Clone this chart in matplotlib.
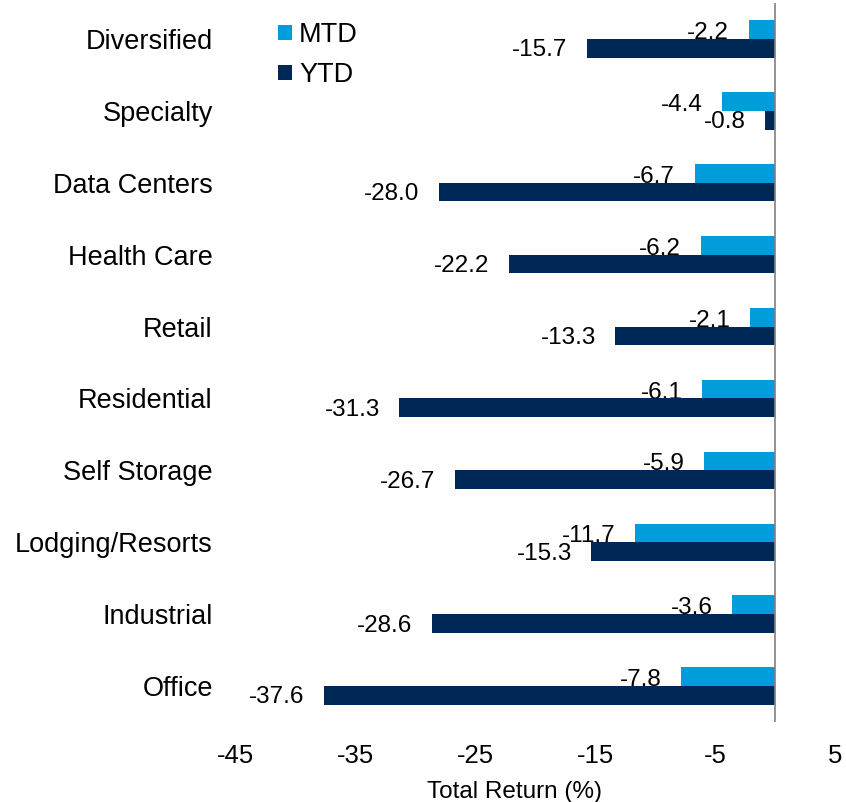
import numpy as np
import matplotlib
matplotlib.use('Agg')
import matplotlib.pyplot as plt

plt.rcParams['font.family'] = ['Liberation Sans', 'DejaVu Sans']

categories = ['Diversified', 'Specialty', 'Data Centers', 'Health Care', 'Retail',
              'Residential', 'Self Storage', 'Lodging/Resorts', 'Industrial', 'Office']
mtd = [-2.2, -4.4, -6.7, -6.2, -2.1, -6.1, -5.9, -11.7, -3.6, -7.8]
ytd = [-15.7, -0.8, -28.0, -22.2, -13.3, -31.3, -26.7, -15.3, -28.6, -37.6]
xticks = [-45, -35, -25, -15, -5, 5]

c_mtd = '#009ddb'
c_ytd = '#002856'

fig = plt.figure(figsize=(8.46, 8.02), dpi=100)
ax = fig.add_axes([0.2778, 0.0998, 0.7092, 0.8965])

y = np.arange(len(categories))
h = 0.26
ax.barh(y - h / 2, mtd, height=h, color=c_mtd, label='MTD', zorder=3)
ax.barh(y + h / 2, ytd, height=h, color=c_ytd, label='YTD', zorder=3)

# value labels sit just left of the bar ends, slightly low, under the bars
for yi, v in zip(y - h / 2, mtd):
    ax.annotate(f'{v:.1f}', (v, yi), xytext=(-14, -2.5), textcoords='offset points',
                ha='right', va='center', fontsize=17.5, zorder=2)
for yi, v in zip(y + h / 2, ytd):
    ax.annotate(f'{v:.1f}', (v, yi), xytext=(-14, -1.5), textcoords='offset points',
                ha='right', va='center', fontsize=17.5, zorder=2)

ax.axvline(0, color='#808080', lw=1.2, zorder=4)
ax.set_xlim(-45, 5)
ax.set_ylim(len(categories) - 0.5, -0.5)
ax.set_xticks(xticks)
ax.set_xticklabels([str(t) for t in xticks])
ax.set_yticks(y)
ax.set_yticklabels(categories)
ax.tick_params(axis='y', length=0, pad=16, labelsize=19.5)
ax.tick_params(axis='x', length=0, pad=16, labelsize=18.5)
for s in ax.spines.values():
    s.set_visible(False)
ax.set_xlabel('Total Return (%)', fontsize=17.5)
ax.xaxis.set_label_coords(0.465, -0.082)

ax.legend(loc='upper left', bbox_to_anchor=(0.316, 0.986), bbox_transform=fig.transFigure,
          frameon=False, fontsize=19.5, handlelength=0.52, handleheight=0.52,
          handletextpad=0.25, labelspacing=0.52, borderaxespad=0)

fig.savefig('out.png', dpi=100)
